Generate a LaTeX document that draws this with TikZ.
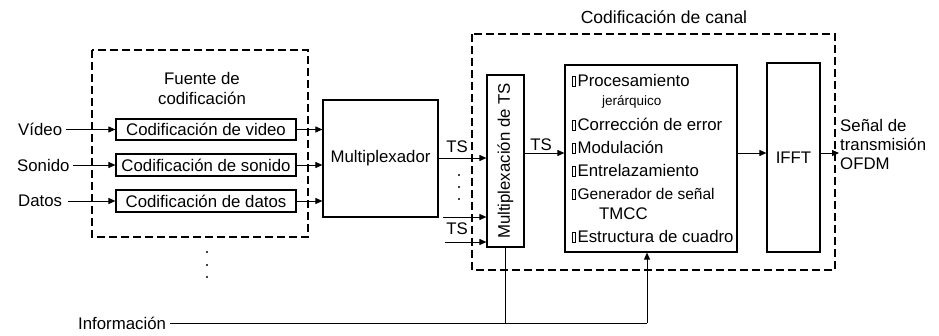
\documentclass[tikz,border=0pt]{standalone}
\usepackage{fontspec}
\setmainfont{Liberation Sans}
\usetikzlibrary{arrows.meta}
\newcommand{\sqbox}{{\setlength{\fboxsep}{0pt}\setlength{\fboxrule}{0.7pt}\fbox{\rule{0pt}{9pt}\hspace{2.5pt}}\hspace{1.5pt}}}
\begin{document}
\begin{tikzpicture}[x=1pt,y=-1pt,
  font=\fontsize{16.8}{19}\selectfont,
  box/.style={draw, line width=1.2pt, inner sep=0pt},
  dbox/.style={draw, line width=2.2pt, dash pattern=on 8pt off 4pt},
  arr/.style={-{Triangle[length=7pt,width=6pt]}, line width=1pt},
  ln/.style={line width=1pt},
  lbl/.style={inner sep=0pt},
  item/.style={anchor=base west, inner sep=0pt},
  dot/.style={circle, fill, inner sep=0pt, minimum size=2.3pt}]
\useasboundingbox (0,0) rectangle (939,335);
% dashed containers
\draw[dbox] (92,50) rectangle (308,237);
\draw[dbox] (472,34) rectangle (835,270);
\node[lbl] (fuente) at (202,91) {\begin{tabular}{@{}c@{}}Fuente de\\[1pt] codificación\end{tabular}};
\node[lbl, font=\fontsize{17.5}{19}\selectfont] (canal) at (664,17) {Codificación de canal};
% source boxes
\node[box, minimum width=180pt, minimum height=21pt] (vid) at (206,129.5) {Codificación de video};
\node[box, minimum width=180pt, minimum height=22pt] (son) at (206,165) {Codificación de sonido};
\node[box, minimum width=180pt, minimum height=22pt] (dat) at (206,201) {Codificación de datos};
% inputs
\node[lbl, anchor=west] (lvid) at (18,129.5) {Vídeo};
\node[lbl, anchor=west] (lson) at (17,165) {Sonido};
\node[lbl, anchor=west] (ldat) at (18,201) {Datos};
\draw[arr] (lvid.east) ++(4,0) -- (vid.west);
\draw[arr] (lson.east) ++(3,0) -- (son.west);
\draw[arr] (ldat.east) ++(6,0) -- (dat.west);
% multiplexer
\node[box, minimum width=115pt, minimum height=117pt] (mux) at (380.5,158.5) {Multiplexador};
\draw[arr] (vid.east) -- (vid.east -| mux.west);
\draw[arr] (son.east) -- (son.east -| mux.west);
\draw[arr] (dat.east) -- (dat.east -| mux.west);
% dots under source
\node[dot] (d1) at (207,252) {};
\node[dot] (d2) at (207,265) {};
\node[dot] (d3) at (207,277) {};
% TS multiplexer
\node[box, minimum width=37pt, minimum height=172pt] (mts) at (505.5,161) {};
\node[lbl, rotate=90] (mtstext) at (mts.center) {Multiplexación de TS};
\coordinate (y1) at (0,158);
\coordinate (y4) at (0,153);
\draw[arr] (mux.east |- y1) -- (mts.west |- y1);
\node[lbl] (ts1) at (457,147) {TS};
\node[dot] (e1) at (459,175) {};
\node[dot] (e2) at (459,187) {};
\node[dot] (e3) at (459,199) {};
\coordinate (s2) at (443,217);
\coordinate (s3) at (445,242);
\draw[arr] (s2) -- (mts.west |- s2);
\draw[arr] (s3) -- (mts.west |- s3);
\node[lbl] (ts3) at (457,229) {TS};
% processing box
\node[box, minimum width=172pt, minimum height=187pt] (proc) at (651,158.5) {};
\draw[arr] (mts.east |- y4) -- (proc.west |- y4);
\node[lbl] (ts2) at (541,145) {TS};
\node[item] (p1) at (572,86) {\sqbox Procesamiento};
\node[item, font=\fontsize{13.5}{15}\selectfont] (p2) at (602,105) {jerárquico};
\node[item] (p3) at (572,130) {\sqbox Corrección de error};
\node[item] (p4) at (572,153) {\sqbox Modulación};
\node[item] (p5) at (572,176) {\sqbox Entrelazamiento};
\node[item] (p6) at (572,199) {\sqbox{\fontsize{15.5}{17}\selectfont Generador de señal}};
\node[item] (p7) at (599,219) {TMCC};
\node[item] (p8) at (572,242) {\sqbox Estructura de cuadro};
% IFFT
\node[box, minimum width=53pt, minimum height=189pt] (ifft) at (793.5,157.5) {IFFT};
\draw[arr] (proc.east |- y4) -- (ifft.west |- y4);
\coordinate (out) at (839,153);
\draw[arr] (ifft.east |- y4) -- (out);
\node[lbl, anchor=north west, align=left] (sig) at (840,119) {Señal de\\transmisión\\OFDM};
% information
\node[lbl, anchor=west] (info) at (78,323) {Información};
\coordinate (j1) at (505,323);
\coordinate (j2) at (647,323);
\draw[ln] (info.east) ++(4,0) -- (j2);
\draw[arr] (j2) -- (j2 |- proc.south);
\draw[ln] (j1) -- (j1 |- mts.south);
\end{tikzpicture}
\end{document}
